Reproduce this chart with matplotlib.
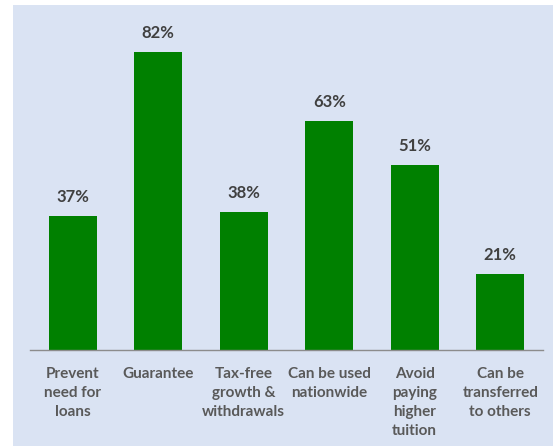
import matplotlib.pyplot as plt
from matplotlib.patches import Rectangle

categories = ["Prevent\nneed for\nloans", "Guarantee", "Tax-free\ngrowth &\nwithdrawals",
              "Can be used\nnationwide", "Avoid\npaying\nhigher\ntuition", "Can be\ntransferred\nto others"]
values = [37, 82, 38, 63, 51, 21]

plt.rcParams['font.family'] = ['Lato', 'DejaVu Sans']

fig = plt.figure(figsize=(5.53, 4.46), dpi=100)
fig.patch.set_facecolor("white")
fig.patches.append(Rectangle((13 / 553, 0), 1, 1 - 5 / 446, transform=fig.transFigure,
                             facecolor="#dae3f3", edgecolor="none", zorder=-10))

ax = fig.add_axes([30 / 553, 96 / 446, 513 / 553, 327 / 446])
ax.set_facecolor("none")
ax.set_zorder(1)
x = range(len(values))
bars = ax.bar(x, values, width=0.56, color="#008000")
for xi, v in zip(x, values):
    ax.text(xi, v + 3, f"{v}%", ha="center", va="bottom", fontsize=12,
            fontweight="bold", color="#404040")

ax.set_xlim(-0.5, len(values) - 0.5)
ax.set_ylim(0, 90)
ax.set_yticks([])
ax.set_xticks(list(x))
ax.set_xticklabels(categories, fontsize=11, fontweight="bold", color="#595959", linespacing=1.45)
ax.tick_params(axis="x", length=0, pad=12)
for s in ["top", "right", "left"]:
    ax.spines[s].set_visible(False)
ax.spines["bottom"].set_color("#8c8c8c")
ax.spines["bottom"].set_linewidth(1)

fig.savefig("out.png", dpi=100)
